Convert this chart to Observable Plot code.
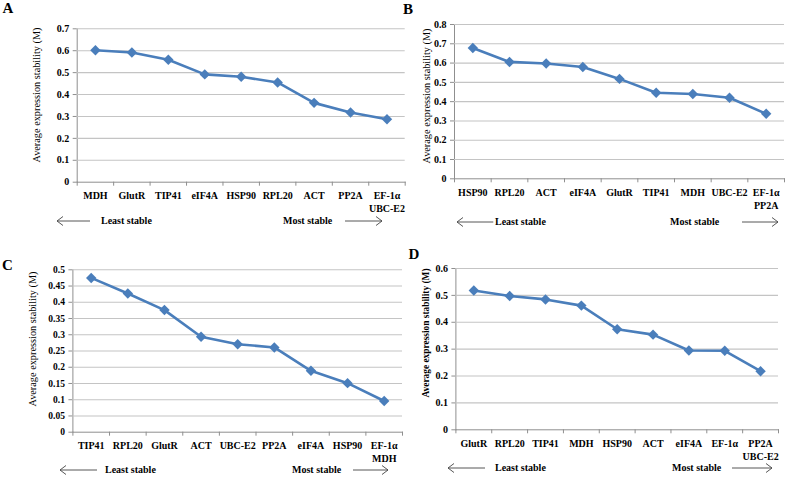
<!DOCTYPE html>
<html><head><meta charset="utf-8">
<script src="https://cdn.jsdelivr.net/npm/d3@7"></script>
<script src="https://cdn.jsdelivr.net/npm/@observablehq/plot@0.6"></script>
<style>
html,body{margin:0;padding:0;background:#fff;}
body{width:787px;height:477px;position:relative;overflow:hidden;font-family:"Liberation Serif","Times New Roman",serif;color:#000;}
.pnl{position:absolute;}
.letter{position:absolute;font-weight:bold;font-size:15px;transform:translate(-50%,-50%);line-height:1;}
.ytitle{position:absolute;white-space:nowrap;transform:translate(-50%,-50%) rotate(-90deg);font-size:10.3px;line-height:1;}
.stab{position:absolute;font-weight:bold;font-size:10px;white-space:nowrap;transform:translateY(-50%);line-height:1;}
.arrow{position:absolute;overflow:visible;}
</style></head><body>
<script>
// ---- data ----
const catsA = ["MDH", "GlutR", "TIP41", "eIF4A", "HSP90", "RPL20", "ACT", "PP2A", "EF-1α\nUBC-E2"];
const valsA = [0.602, 0.592, 0.559, 0.492, 0.481, 0.455, 0.362, 0.318, 0.287];
const ticksA = [0, 0.1, 0.2, 0.3, 0.4, 0.5, 0.6, 0.7];

const catsB = ["HSP90", "RPL20", "ACT", "eIF4A", "GlutR", "TIP41", "MDH", "UBC-E2", "EF-1α\nPP2A"];
const valsB = [0.678, 0.606, 0.598, 0.580, 0.518, 0.446, 0.440, 0.420, 0.337];
const ticksB = [0, 0.1, 0.2, 0.3, 0.4, 0.5, 0.6, 0.7, 0.8];

const catsC = ["TIP41", "RPL20", "GlutR", "ACT", "UBC-E2", "PP2A", "eIF4A", "HSP90", "EF-1α\nMDH"];
const valsC = [0.475, 0.427, 0.376, 0.294, 0.271, 0.261, 0.189, 0.151, 0.096];
const ticksC = [0, 0.05, 0.1, 0.15, 0.2, 0.25, 0.3, 0.35, 0.4, 0.45, 0.5];

const catsD = ["GlutR", "RPL20", "TIP41", "MDH", "HSP90", "ACT", "eIF4A", "EF-1α", "PP2A\nUBC-E2"];
const valsD = [0.518, 0.498, 0.485, 0.462, 0.374, 0.354, 0.295, 0.294, 0.218];
const ticksD = [0, 0.1, 0.2, 0.3, 0.4, 0.5, 0.6];

const panelLetters = ["A", "B", "C", "D"];
const yTitle = "Average expression stability (M)";
const leastText = "Least stable";
const mostText = "Most stable";

// ---- layout ----
const BLUE = "#4A7EBB";
const layouts = [
  {cats: catsA, vals: valsA, ticks: ticksA, left: 0, top: 0, W: 410, H: 235, ml: 76.7, mr: 5.3, mt: 28.3, mb: 53.3,
   letter: [8, 8], title: [36.7, 95], titleBold: false, ySize: 10,
   la: [57, 90, 221], lt: 101, mtx: 283, ra: [345, 382]},
  {cats: catsB, vals: valsB, ticks: ticksB, left: 395, top: 0, W: 392, H: 235, ml: 59, mr: 3, mt: 24, mb: 56.7,
   letter: [408, 9], title: [426.7, 96], titleBold: false, ySize: 10,
   la: [456.7, 493, 221.7], lt: 495, mtx: 670, ra: [742, 778]},
  {cats: catsC, vals: valsC, ticks: ticksC, left: 0, top: 240, W: 405, H: 237, ml: 72.4, mr: 3, mt: 29.3, mb: 45.3,
   letter: [7.5, 265], title: [33, 338.5], titleBold: false, ySize: 9.5,
   la: [60, 97, 470], lt: 105, mtx: 292, ra: [353, 388]},
  {cats: catsD, vals: valsD, ticks: ticksD, left: 395, top: 240, W: 392, H: 237, ml: 60.4, mr: 9, mt: 28, mb: 47.7,
   letter: [414, 254], title: [426.7, 333], titleBold: true, ySize: 10,
   la: [448, 485, 468.3], lt: 495, mtx: 672, ra: [732, 772]}
];

function el(tag, cls, text) {
  const e = document.createElement(tag);
  if (cls) e.className = cls;
  if (text != null) e.textContent = text;
  document.body.appendChild(e);
  return e;
}

function arrow(x1, x2, y, dir) {
  const ns = "http://www.w3.org/2000/svg";
  const s = document.createElementNS(ns, "svg");
  s.setAttribute("class", "arrow");
  const w = x2 - x1;
  s.setAttribute("width", w);
  s.setAttribute("height", 12);
  s.style.left = x1 + "px";
  s.style.top = (y - 6) + "px";
  const p = document.createElementNS(ns, "path");
  const d = dir < 0
    ? `M0,6H${w} M6,1.5L0,6L6,10.5`
    : `M0,6H${w} M${w - 6},1.5L${w},6L${w - 6},10.5`;
  p.setAttribute("d", d);
  p.setAttribute("stroke", "#444");
  p.setAttribute("stroke-width", "0.9");
  p.setAttribute("fill", "none");
  s.appendChild(p);
  document.body.appendChild(s);
}

layouts.forEach((L, k) => {
  const n = L.cats.length;
  const data = L.cats.map((c, i) => ({i: i + 0.5, c, v: L.vals[i]}));
  const bounds = d3.range(n + 1);
  const ymax = L.ticks[L.ticks.length - 1];
  const chart = Plot.plot({
    width: L.W, height: L.H,
    marginLeft: L.ml, marginRight: L.mr, marginTop: L.mt, marginBottom: L.mb,
    style: {background: "transparent", color: "#8f8f8f", fontFamily: "'Liberation Serif', 'Times New Roman', serif", fontSize: "10px", overflow: "visible"},
    x: {domain: [0, n], ticks: bounds, tickFormat: () => "", tickSize: 4, line: true, label: null},
    y: {domain: [0, ymax], ticks: L.ticks, tickFormat: () => "", tickSize: 4, line: true, label: null},
    marks: [
      Plot.ruleY(L.ticks.filter(t => t > 0), {stroke: "#c4c4c4", strokeWidth: 1.1}),
      Plot.line(data, {x: "i", y: "v", stroke: BLUE, strokeWidth: 2.6}),
      Plot.dot(data, {x: "i", y: "v", symbol: "diamond2", r: 4.7, fill: BLUE, stroke: "none"}),
      Plot.text(L.ticks, {x: () => 0, y: d => d, text: d => String(d), textAnchor: "end", dx: -8, fill: "#000", fontWeight: "bold", fontSize: L.ySize}),
      Plot.text(data, {x: "i", y: () => 0, text: "c", lineAnchor: "top", dy: 7.5, lineHeight: 1.3, fill: "#000", fontWeight: "bold", fontSize: 10})
    ]
  });
  const wrap = el("div", "pnl");
  wrap.style.left = L.left + "px";
  wrap.style.top = L.top + "px";
  wrap.appendChild(chart);

  const lt = el("div", "letter", panelLetters[k]);
  lt.style.left = L.letter[0] + "px";
  lt.style.top = L.letter[1] + "px";

  const yt = el("div", "ytitle", yTitle);
  yt.style.left = L.title[0] + "px";
  yt.style.top = L.title[1] + "px";
  if (L.titleBold) { yt.style.fontWeight = "bold"; yt.style.fontSize = "9.4px"; }

  arrow(L.la[0], L.la[1], L.la[2], -1);
  const ls = el("div", "stab", leastText);
  ls.style.left = L.lt + "px";
  ls.style.top = L.la[2] + "px";
  const ms = el("div", "stab", mostText);
  ms.style.left = L.mtx + "px";
  ms.style.top = L.la[2] + "px";
  arrow(L.ra[0], L.ra[1], L.la[2], 1);
});
</script>
</body></html>
